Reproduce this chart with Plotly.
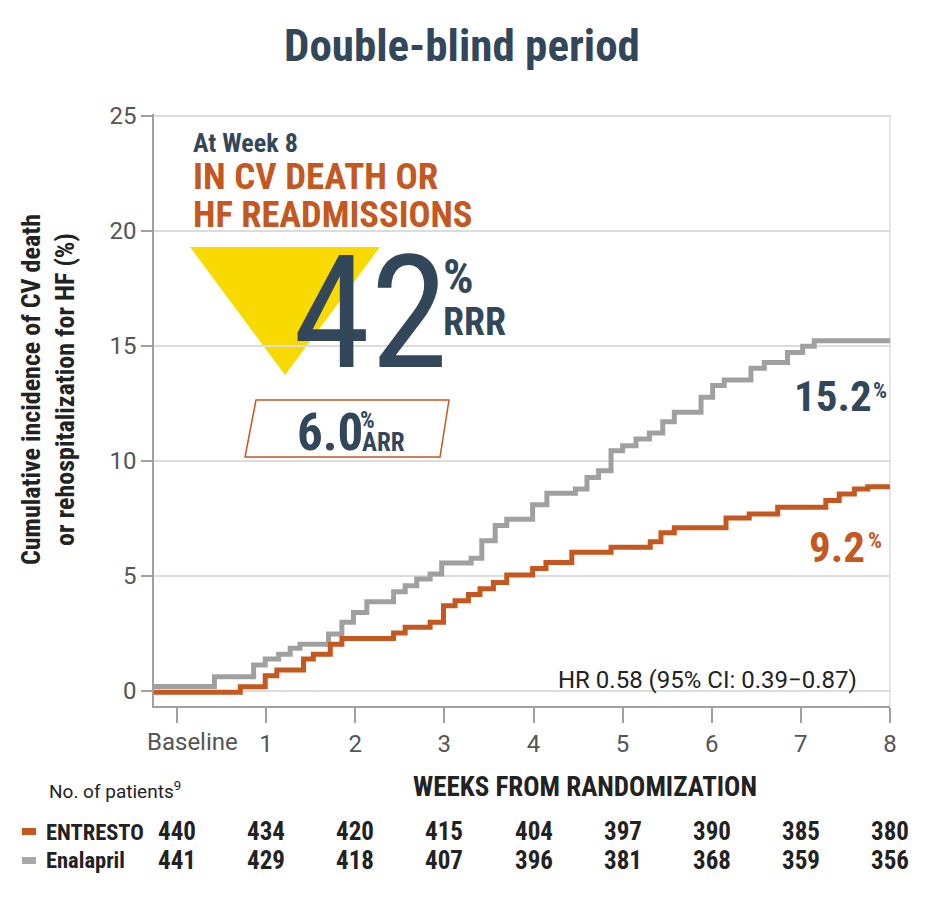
import plotly.graph_objects as go

# ---------------- data ----------------
tick_vals = [0, 1, 2, 3, 4, 5, 6, 7, 8]
tick_text = ["", "1", "2", "3", "4", "5", "6", "7", "8"]
baseline_label = "Baseline"

# Enalapril (grey) step curve: week where level starts, cumulative incidence (%)
enal_x = [-0.26, 0.42, 0.86, 0.99, 1.14, 1.27, 1.38, 1.70, 1.85, 1.98, 2.13, 2.43,
          2.56, 2.69, 2.84, 2.97, 3.30, 3.42, 3.57, 3.70, 3.99, 4.15, 4.47, 4.60,
          4.73, 4.87, 5.00, 5.15, 5.30, 5.45, 5.58, 5.88, 6.01, 6.14, 6.44, 6.59,
          6.85, 7.02, 7.15, 8.00]
enal_y = [0.20, 0.62, 1.13, 1.39, 1.60, 1.86, 2.04, 2.48, 2.99, 3.42, 3.88, 4.32,
          4.58, 4.87, 5.09, 5.57, 5.77, 6.54, 7.20, 7.47, 8.10, 8.60, 8.78, 9.29,
          9.58, 10.45, 10.67, 10.96, 11.22, 11.71, 12.12, 12.77, 13.28, 13.52, 14.03, 14.29,
          14.72, 14.99, 15.23, 15.23]

# ENTRESTO (orange) step curve
entr_x = [-0.26, 0.71, 0.99, 1.12, 1.42, 1.53, 1.72, 1.85, 2.43, 2.56, 2.84, 2.99,
          3.12, 3.27, 3.40, 3.55, 3.70, 3.99, 4.14, 4.43, 4.87, 5.31, 5.43, 5.58,
          6.16, 6.42, 6.74, 7.28, 7.43, 7.60, 7.75, 8.00]
entr_y = [-0.05, 0.19, 0.67, 0.91, 1.39, 1.60, 2.04, 2.29, 2.52, 2.77, 2.99, 3.71,
          3.93, 4.20, 4.45, 4.72, 5.05, 5.33, 5.59, 6.03, 6.25, 6.49, 6.88, 7.10,
          7.52, 7.70, 7.99, 8.28, 8.57, 8.78, 8.88, 8.88]

at_risk_weeks = [0, 1, 2, 3, 4, 5, 6, 7, 8]
at_risk_entresto = [440, 434, 420, 415, 404, 397, 390, 385, 380]
at_risk_enalapril = [441, 429, 418, 407, 396, 381, 368, 359, 356]

# ---------------- styles ----------------
W, H = 927, 905
L, R, T, B = 154, 890, 114, 706
ORANGE = "#C4581F"
GREY = "#A0A0A0"
NAVY = "#33475B"
YELLOW = "#F8DA00"
DARK = "#222222"
TICKC = "#555555"
COND = "Liberation Sans Narrow, Roboto Condensed, DejaVu Sans Condensed, sans-serif"
REG = "Roboto, Liberation Sans, sans-serif"


def px(x):
    return (x - L) / (R - L)


def py(y):
    return (B - y) / (B - T)


fig = go.Figure()
fig.add_trace(go.Scatter(x=enal_x, y=enal_y, mode="lines", line=dict(shape="hv", color=GREY, width=5),
                         showlegend=False, hoverinfo="skip", cliponaxis=False))
fig.add_trace(go.Scatter(x=entr_x, y=entr_y, mode="lines", line=dict(shape="hv", color=ORANGE, width=5),
                         showlegend=False, hoverinfo="skip", cliponaxis=False))

ann = []


def text(x, y, s, size, color, family=COND, weight="bold", xanchor="left", yanchor="middle",
         xref="paper", angle=0):
    ann.append(dict(x=x, y=y, xref=xref, yref="paper", text=s, showarrow=False,
                    xanchor=xanchor, yanchor=yanchor, textangle=angle, borderpad=0,
                    font=dict(family=family, size=size, color=color, weight=weight)))


# title
text(px(462), py(45), "Double-blind period", 45, NAVY, xanchor="center")

# y axis title
text(px(48), py(390), "Cumulative incidence of CV death<br>or rehospitalization for HF (%)", 26, DARK,
     xanchor="center", angle=-90)

# baseline tick label (set slightly right of its tick, as in the original)
text(px(192), py(742), baseline_label, 24, TICKC, family=REG, weight="normal", xanchor="center")

# callout block
text(px(192), py(143), "At Week 8", 26, NAVY)
text(px(192), py(176), "IN CV DEATH OR", 37, ORANGE)
text(px(192), py(214), "HF READMISSIONS", 36.5, ORANGE)
text(px(292), py(313), "42", 157, NAVY, weight="normal")
text(px(442), py(276), "%", 48, NAVY)
text(px(442), py(322), "RRR", 38, NAVY)
text(px(296), py(432), "6.0", 51, NAVY)
text(px(359), py(420), "%", 23, NAVY)
text(px(361), py(442), "ARR", 25, NAVY)

# end labels
text(px(873), py(396), "15.2", 43, NAVY, xanchor="right")
text(px(872), py(390), "%", 22, NAVY)
text(px(866), py(547), "9.2", 43, ORANGE, xanchor="right")
text(px(867), py(540), "%", 22, ORANGE)

# HR
text(px(858), py(680), "HR 0.58 (95% CI: 0.39\u22120.87)", 24, DARK, family=REG, weight="normal",
     xanchor="right")

# bottom table
text(px(48), py(790), "No. of patients<sup>9</sup>", 19, DARK, family=REG, weight="normal")
text(px(585), py(787), "WEEKS FROM RANDOMIZATION", 27, DARK, xanchor="center")
text(px(45), py(832), "ENTRESTO", 22.5, DARK)
text(px(45), py(860), "Enalapril", 22.5, DARK)
for wk, a, b in zip(at_risk_weeks, at_risk_entresto, at_risk_enalapril):
    text(wk, py(832), str(a), 25, DARK, xanchor="center", xref="x")
    text(wk, py(860), str(b), 25, DARK, xanchor="center", xref="x")

shapes = [
    # yellow triangle
    dict(type="path", xref="paper", yref="paper",
         path=f"M {px(190)},{py(247)} L {px(380)},{py(247)} L {px(285)},{py(375)} Z",
         fillcolor=YELLOW, line=dict(width=0), layer="below"),
    # ARR parallelogram
    dict(type="path", xref="paper", yref="paper",
         path=f"M {px(256)},{py(400)} L {px(449)},{py(400)} L {px(440)},{py(457)} L {px(245)},{py(457)} Z",
         fillcolor="rgba(0,0,0,0)", line=dict(color=ORANGE, width=1.5), layer="above"),
    # right border
    dict(type="line", xref="paper", yref="paper", x0=1, x1=1, y0=0, y1=1,
         line=dict(color="#DCDCDC", width=1.5), layer="below"),
    # legend swatches
    dict(type="rect", xref="paper", yref="paper", x0=px(22), x1=px(36), y0=py(835), y1=py(828),
         fillcolor=ORANGE, line=dict(width=0)),
    dict(type="rect", xref="paper", yref="paper", x0=px(22), x1=px(36), y0=py(864), y1=py(857),
         fillcolor="#A8A8A8", line=dict(width=0)),
]

fig.update_layout(
    width=W, height=H,
    margin=dict(l=L, r=W - R, t=T, b=H - B, pad=0),
    paper_bgcolor="white", plot_bgcolor="white",
    annotations=ann, shapes=shapes,
    xaxis=dict(range=[-0.258, 8], tickvals=tick_vals, ticktext=tick_text, showgrid=False,
               zeroline=False, showline=True, linecolor=GREY, linewidth=1.5,
               ticks="outside", ticklen=15, tickwidth=1.5, tickcolor=GREY,
               tickfont=dict(family=REG, size=24, color=TICKC)),
    yaxis=dict(range=[-0.65, 25.09], tickvals=[0, 5, 10, 15, 20, 25], showgrid=True,
               gridcolor="#DCDCDC", gridwidth=1.5, zeroline=False, showline=True,
               linecolor=GREY, linewidth=1.5, ticks="outside", ticklen=11, tickwidth=1.5,
               tickcolor=GREY, tickfont=dict(family=REG, size=24, color=TICKC)),
)

fig.write_html("out.html")
